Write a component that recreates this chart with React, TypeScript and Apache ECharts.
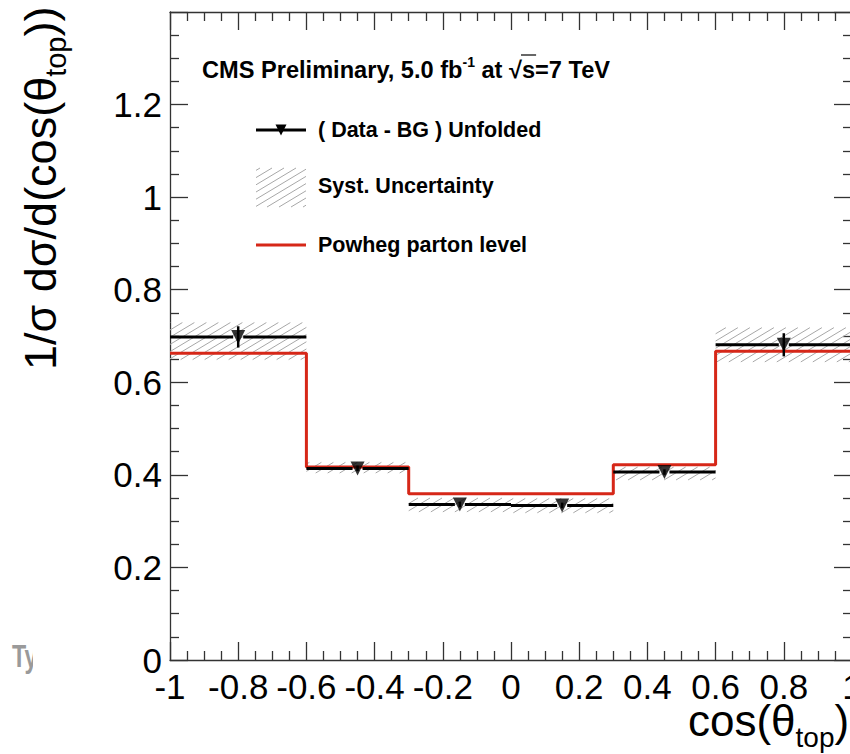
import React, { useEffect, useRef } from 'react';
import * as echarts from 'echarts';

// ---- data ----
const binLowEdges = [-1, -0.6, -0.3, 0, 0.3, 0.6];
const binHighEdges = [-0.6, -0.3, 0, 0.3, 0.6, 1];
const dataCenters = [-0.8, -0.45, -0.15, 0.15, 0.45, 0.8];
const dataValues = [0.698, 0.414, 0.336, 0.334, 0.406, 0.681];
const statErrors = [0.023, 0.006, 0.006, 0.006, 0.006, 0.025];
const systLow = [0.649, 0.404, 0.32, 0.318, 0.389, 0.644];
const systHigh = [0.729, 0.427, 0.35, 0.349, 0.417, 0.718];
const powhegValues = [0.663, 0.417, 0.359, 0.359, 0.422, 0.667];

const legendLabels = ['( Data - BG ) Unfolded', 'Syst. Uncertainty', 'Powheg parton level'];

const FONT = '"Liberation Sans", Arial, Helvetica, sans-serif';
const RED = '#d62718';
const HATCH_SLOPE = 0.6;
const HATCH_SPACING = 12;

function hatchLines(x0: number, x1: number, yTop: number, yBot: number, slope: number, spacing: number) {
  const D = spacing * slope;
  const kStart = Math.ceil((yTop + slope * x0) / D);
  const kEnd = Math.floor((yBot + slope * x1) / D);
  const out: number[][] = [];
  for (let k = kStart; k <= kEnd; k++) {
    const K = k * D;
    const xa = Math.max(x0, (K - yBot) / slope);
    const xb = Math.min(x1, (K - yTop) / slope);
    if (xb > xa) out.push([xa, K - slope * xa, xb, K - slope * xb]);
  }
  return out;
}

function measure(text: string, font: string) {
  const c = document.createElement('canvas').getContext('2d')!;
  c.font = font;
  return c.measureText(text).width;
}

const fmt = (v: number) => String(Math.round(v * 100) / 100);

export default function App() {
  const ref = useRef<HTMLDivElement>(null);

  useEffect(() => {
    const chart = echarts.init(ref.current!, null, { renderer: 'svg' });

    const axisLineStyle = { color: '#333', width: 1.3 };
    const xBase: any = {
      type: 'value',
      min: -1,
      max: 1,
      interval: 0.2,
      axisLine: { show: true, onZero: false, lineStyle: axisLineStyle },
      axisTick: { show: true, inside: true, length: 18, lineStyle: axisLineStyle },
      minorTick: { show: true, splitNumber: 4, length: 9, lineStyle: axisLineStyle },
      splitLine: { show: false },
      minorSplitLine: { show: false },
    };
    const yBase: any = {
      type: 'value',
      min: 0,
      max: 1.4,
      interval: 0.2,
      axisLine: { show: true, onZero: false, lineStyle: axisLineStyle },
      axisTick: { show: true, inside: true, length: 18, lineStyle: axisLineStyle },
      minorTick: { show: true, splitNumber: 4, length: 9, lineStyle: axisLineStyle },
      splitLine: { show: false },
      minorSplitLine: { show: false },
    };

    const systData = binLowEdges.map((x0, i) => [x0, binHighEdges[i], systLow[i], systHigh[i]]);
    const barData = binLowEdges.map((x0, i) => [x0, binHighEdges[i], dataCenters[i], dataValues[i], statErrors[i]]);
    const markerData = dataCenters.map((x, i) => [x, dataValues[i]]);
    const powhegStep = binLowEdges.map((x0, i) => [x0, powhegValues[i]]);
    powhegStep.push([binHighEdges[binHighEdges.length - 1], powhegValues[powhegValues.length - 1]]);

    // CMS label overline position over "s"
    const cmsSize = 23.6;
    const boldMain = `bold ${cmsSize}px ${FONT}`;
    const bold14 = `bold 14px ${FONT}`;
    const cmsX = 202;
    const sStart = cmsX + measure('CMS Preliminary, 5.0 fb', boldMain) + measure('-1', bold14) + measure(' at \u221A', boldMain);
    const sW = measure('s', boldMain);

    // x-axis title pieces
    const xtX = 688;
    const xtMainW = measure('cos(\u03B8', `44px ${FONT}`);
    const xtSubW = measure('top', `28px ${FONT}`);

    const legendHatch = hatchLines(256, 306, 168, 207, HATCH_SLOPE, HATCH_SPACING).map((l) => ({
      type: 'line',
      shape: { x1: l[0], y1: l[1], x2: l[2], y2: l[3] },
      style: { stroke: '#a8a8a8', lineWidth: 1 },
    }));

    const txt = (text: string, x: number, y: number, size: number, weight = 'bold', lh?: number) => ({
      type: 'text',
      x,
      y,
      style: {
        text,
        fill: '#000',
        fontSize: size,
        fontWeight: weight,
        fontFamily: FONT,
        lineHeight: lh,
        textAlign: 'left',
        align: 'left',
        textVerticalAlign: 'middle',
        verticalAlign: 'middle',
      },
    });

    const option: any = {
      animation: false,
      backgroundColor: '#fff',
      grid: { left: 170, right: 18, top: 12, bottom: 94, containLabel: false },
      xAxis: [
        {
          ...xBase,
          position: 'bottom',
          axisLabel: {
            show: true,
            fontSize: 35,
            lineHeight: 28,
            color: '#000',
            margin: 12,
            fontFamily: FONT,
            showMinLabel: true,
            showMaxLabel: true,
            formatter: (v: number) => fmt(v),
          },
        },
        { ...xBase, position: 'top', axisLabel: { show: false } },
      ],
      yAxis: [
        {
          ...yBase,
          position: 'left',
          axisLabel: {
            show: true,
            fontSize: 35,
            lineHeight: 24,
            color: '#000',
            margin: 8,
            fontFamily: FONT,
            showMinLabel: true,
            showMaxLabel: true,
            formatter: (v: number) => (Math.abs(v - 1.4) < 1e-9 ? '' : fmt(v)),
          },
        },
        { ...yBase, position: 'right', axisLabel: { show: false } },
      ],
      series: [
        {
          type: 'custom',
          name: 'Syst. Uncertainty',
          z: 1,
          data: systData,
          encode: { x: [0, 1], y: [2, 3] },
          renderItem: (params: any, api: any) => {
            const pTL = api.coord([api.value(0), api.value(3)]);
            const pBR = api.coord([api.value(1), api.value(2)]);
            const lines = hatchLines(pTL[0], pBR[0], pTL[1], pBR[1], HATCH_SLOPE, HATCH_SPACING);
            return {
              type: 'group',
              children: lines.map((l) => ({
                type: 'line',
                shape: { x1: l[0], y1: l[1], x2: l[2], y2: l[3] },
                style: { stroke: '#a8a8a8', lineWidth: 1 },
              })),
            };
          },
        },
        {
          type: 'line',
          name: 'Powheg parton level',
          z: 2,
          step: 'end',
          data: powhegStep,
          showSymbol: false,
          symbol: 'none',
          lineStyle: { color: RED, width: 3 },
        },
        {
          type: 'custom',
          name: '( Data - BG ) Unfolded',
          z: 3,
          data: barData,
          encode: { x: [0, 1, 2], y: 3 },
          renderItem: (params: any, api: any) => {
            const y = api.value(3);
            const e = api.value(4);
            const pl = api.coord([api.value(0), y]);
            const pr = api.coord([api.value(1), y]);
            const pc = api.coord([api.value(2), y]);
            const pt = api.coord([api.value(2), y + e]);
            const pb = api.coord([api.value(2), y - e]);
            const gap = 5;
            return {
              type: 'group',
              children: [
                { type: 'line', shape: { x1: pl[0], y1: pl[1], x2: pc[0] - gap, y2: pc[1] }, style: { stroke: '#000', lineWidth: 3 } },
                { type: 'line', shape: { x1: pc[0] + gap, y1: pc[1], x2: pr[0], y2: pr[1] }, style: { stroke: '#000', lineWidth: 3 } },
                { type: 'line', shape: { x1: pc[0], y1: pt[1], x2: pc[0], y2: pb[1] }, style: { stroke: '#000', lineWidth: 2.5 } },
              ],
            };
          },
        },
        {
          type: 'scatter',
          z: 4,
          data: markerData,
          symbol: 'triangle',
          symbolRotate: 180,
          symbolSize: 14,
          itemStyle: { color: '#000' },
        },
      ],
      graphic: [
        // stray background text at lower left
        {
          type: 'text',
          x: 12,
          y: 656,
          scaleX: 0.75,
          style: { text: 'Ty', fill: '#9a9a9a', fontSize: 31, fontWeight: 'bold', fontFamily: FONT, textVerticalAlign: 'middle', verticalAlign: 'middle' },
        },
        { type: 'rect', shape: { x: 33, y: 636, width: 30, height: 44 }, style: { fill: '#fff' } },
        // CMS label
        {
          type: 'text',
          x: cmsX,
          y: 70,
          style: {
            text: '{m|CMS Preliminary, 5.0 fb}{sup|-1}{m| at \u221As=7 TeV}',
            fill: '#000',
            fontFamily: FONT,
            textAlign: 'left',
            align: 'left',
            textVerticalAlign: 'middle',
            verticalAlign: 'middle',
            rich: {
              m: { fontSize: cmsSize, fontWeight: 'bold', fontFamily: FONT, lineHeight: 30, verticalAlign: 'middle', fill: '#000' },
              sup: { fontSize: 14, fontWeight: 'bold', fontFamily: FONT, lineHeight: 14, verticalAlign: 'top', fill: '#000' },
            },
          },
        },
        { type: 'line', shape: { x1: sStart - 1, y1: 55, x2: sStart + sW + 1, y2: 55 }, style: { stroke: '#000', lineWidth: 1.2 } },
        // legend
        { type: 'line', shape: { x1: 256, y1: 130, x2: 306, y2: 130 }, style: { stroke: '#000', lineWidth: 3 } },
        { type: 'polygon', shape: { points: [[275.5, 124.5], [286.5, 124.5], [281, 135.5]] }, style: { fill: '#000' } },
        ...legendHatch,
        { type: 'line', shape: { x1: 256, y1: 245, x2: 306, y2: 245 }, style: { stroke: RED, lineWidth: 3 } },
        txt(legendLabels[0], 318, 130, 21.5),
        txt(legendLabels[1], 318, 186, 21.5),
        txt(legendLabels[2], 318, 245, 21.5),
        // x-axis title: cos(θ_top)
        txt('cos(\u03B8', xtX, 720, 44, 'normal', 36),
        txt('top', xtX + xtMainW, 737, 28, 'normal', 22),
        txt(')', xtX + xtMainW + xtSubW, 720, 44, 'normal', 36),
        // y-axis title
        {
          type: 'text',
          x: 40,
          y: 370,
          rotation: Math.PI / 2,
          style: {
            text: '{m|1/\u03C3 d\u03C3/d(cos(\u03B8}{s|top}{m|))}',
            fill: '#000',
            fontFamily: FONT,
            textAlign: 'left',
            align: 'left',
            textVerticalAlign: 'middle',
            verticalAlign: 'middle',
            rich: {
              m: { fontSize: 45, fontFamily: FONT, lineHeight: 60, verticalAlign: 'middle', fill: '#000' },
              s: { fontSize: 29, fontFamily: FONT, lineHeight: 29, verticalAlign: 'bottom', fill: '#000' },
            },
          },
        },
      ],
    };

    chart.setOption(option);
    return () => chart.dispose();
  }, []);

  return (
    <div style={{ position: 'fixed', left: 0, top: 0, width: 850, height: 754, overflow: 'hidden', background: '#fff' }}>
      <div ref={ref} style={{ width: 870, height: 754 }} />
    </div>
  );
}
